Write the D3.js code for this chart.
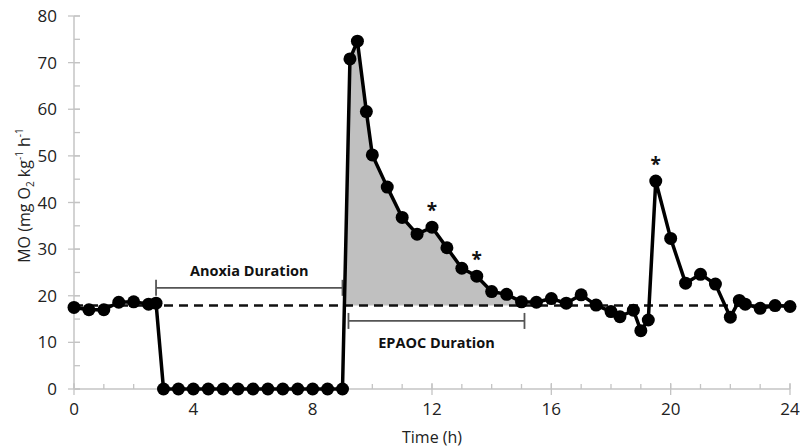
<!DOCTYPE html>
<html>
<head>
<meta charset="utf-8">
<script src="https://cdn.jsdelivr.net/npm/d3@7"></script>
<style>
  html, body { margin: 0; padding: 0; background: #fff; }
  svg { display: block; font-family: "Open Sans", sans-serif; }
</style>
</head>
<body>
<svg id="chart" width="800" height="447"></svg>
<script>
// ---- data ----
const times = [0, 0.5, 1.0, 1.5, 2.0, 2.5, 2.75,
  3.0, 3.5, 4.0, 4.5, 5.0, 5.5, 6.0, 6.5, 7.0, 7.5, 8.0, 8.5, 9.0,
  9.25, 9.5, 9.8, 10.0, 10.5, 11.0, 11.5, 12.0, 12.5, 13.0, 13.5, 14.0, 14.5, 15.0, 15.5,
  16.0, 16.5, 17.0, 17.5, 18.0, 18.3, 18.75, 19.0, 19.25, 19.5, 20.0, 20.5, 21.0, 21.5,
  22.0, 22.3, 22.5, 23.0, 23.5, 24.0];
const mo = [17.5, 17.0, 17.0, 18.6, 18.7, 18.2, 18.4,
  0, 0, 0, 0, 0, 0, 0, 0, 0, 0, 0, 0, 0,
  70.8, 74.6, 59.5, 50.2, 43.3, 36.8, 33.2, 34.7, 30.3, 25.9, 24.2, 20.9, 20.3, 18.7, 18.6,
  19.4, 18.4, 20.2, 18.0, 16.6, 15.5, 16.9, 12.5, 14.8, 44.6, 32.3, 22.7, 24.6, 22.5,
  15.4, 19.0, 18.2, 17.3, 17.9, 17.7];
const baseline = 17.9;
const epaocRange = [9.0, 15.0];          // shaded recovery period
const anoxiaBracket = [2.75, 9.0];
const anoxiaBracketY = 21.7;
const epaocBracket = [9.2, 15.1];
const epaocBracketY = 14.6;
const starTimes = [12.0, 13.5, 19.5];
const xTicks = [0, 4, 8, 12, 16, 20, 24];
const xMinorTicks = d3.range(0, 25, 1);
const yTicks = [0, 10, 20, 30, 40, 50, 60, 70, 80];
const yMinorTicks = d3.range(0, 81, 5);

// ---- layout ----
const svg = d3.select("#chart");
const x = d3.scaleLinear().domain([0, 24]).range([74, 790]);
const y = d3.scaleLinear().domain([0, 80]).range([389, 16]);
const axisColor = "#c4c4c4";

const data = times.map((t, i) => ({ t, v: mo[i] }));

// ---- axes ----
const gx = svg.append("g");
gx.append("line").attr("x1", x(0)).attr("x2", x(24)).attr("y1", y(0)).attr("y2", y(0))
  .attr("stroke", axisColor).attr("stroke-width", 1.5);
gx.selectAll("line.minor").data(xMinorTicks).join("line").attr("class", "minor")
  .attr("x1", d => x(d)).attr("x2", d => x(d)).attr("y1", y(0) - 5).attr("y2", y(0))
  .attr("stroke", axisColor).attr("stroke-width", 1.3);
gx.selectAll("line.major").data(xTicks).join("line").attr("class", "major")
  .attr("x1", d => x(d)).attr("x2", d => x(d)).attr("y1", y(0) - 6).attr("y2", y(0) + 6)
  .attr("stroke", axisColor).attr("stroke-width", 1.3);
gx.selectAll("text").data(xTicks).join("text")
  .attr("x", d => x(d)).attr("y", y(0) + 26).attr("text-anchor", "middle")
  .attr("font-size", 17).attr("fill", "#222").text(d => d);

const gy = svg.append("g");
gy.append("line").attr("x1", x(0)).attr("x2", x(0)).attr("y1", y(0)).attr("y2", y(80))
  .attr("stroke", axisColor).attr("stroke-width", 1.5);
gy.selectAll("line.minor").data(yMinorTicks).join("line").attr("class", "minor")
  .attr("x1", x(0)).attr("x2", x(0) + 6).attr("y1", d => y(d)).attr("y2", d => y(d))
  .attr("stroke", axisColor).attr("stroke-width", 1.3);
gy.selectAll("line.major").data(yTicks).join("line").attr("class", "major")
  .attr("x1", x(0) - 6).attr("x2", x(0) + 6).attr("y1", d => y(d)).attr("y2", d => y(d))
  .attr("stroke", axisColor).attr("stroke-width", 1.3);
gy.selectAll("text").data(yTicks).join("text")
  .attr("x", 57).attr("y", d => y(d) + 6).attr("text-anchor", "end")
  .attr("font-size", 17).attr("fill", "#222").text(d => d);

// axis titles
svg.append("text").attr("x", x(12)).attr("y", 443).attr("text-anchor", "middle")
  .attr("font-size", 16).attr("fill", "#222").text("Time (h)");
const yl = svg.append("text").attr("transform", `translate(30,${y(41.5)}) rotate(-90)`)
  .attr("text-anchor", "middle").attr("font-size", 16).attr("fill", "#222");
yl.append("tspan").text("MO (mg O");
yl.append("tspan").attr("font-size", 10).attr("dy", 4).text("2");
yl.append("tspan").attr("dy", -4).text(" kg");
yl.append("tspan").attr("font-size", 10).attr("dy", -7).text("-1");
yl.append("tspan").attr("dy", 7).text(" h");
yl.append("tspan").attr("font-size", 10).attr("dy", -7).text("-1");

// ---- shaded EPAOC area ----
const seg = [];
for (let i = 1; i < data.length; i++) {
  const a = data[i - 1], b = data[i];
  if (b.t <= epaocRange[0] || a.t >= epaocRange[1] + 1e-9) continue;
  if (a.v < baseline && b.v >= baseline) {
    const tc = a.t + (b.t - a.t) * (baseline - a.v) / (b.v - a.v);
    seg.push({ t: tc, v: baseline });
  }
  if (b.t <= epaocRange[1]) seg.push(b);
}
seg.push({ t: epaocRange[1], v: baseline });
svg.append("path").datum(seg)
  .attr("d", d3.area().x(d => x(d.t)).y0(y(baseline)).y1(d => y(Math.max(d.v, baseline))))
  .attr("fill", "#c0c0c0");

// ---- baseline dashed ----
svg.append("line").attr("x1", x(0)).attr("x2", x(24)).attr("y1", y(baseline)).attr("y2", y(baseline))
  .attr("stroke", "#111").attr("stroke-width", 2.5).attr("stroke-dasharray", "9,6");

// ---- brackets ----
function bracket(range, v, label, labelDy) {
  const g = svg.append("g").attr("stroke", "#555").attr("stroke-width", 1.8);
  g.append("line").attr("x1", x(range[0])).attr("x2", x(range[1])).attr("y1", y(v)).attr("y2", y(v));
  g.append("line").attr("x1", x(range[0])).attr("x2", x(range[0])).attr("y1", y(v) - 8).attr("y2", y(v) + 8);
  g.append("line").attr("x1", x(range[1])).attr("x2", x(range[1])).attr("y1", y(v) - 8).attr("y2", y(v) + 8);
  svg.append("text").attr("x", (x(range[0]) + x(range[1])) / 2).attr("y", y(v) + labelDy)
    .attr("text-anchor", "middle").attr("font-size", 14.5).attr("font-weight", "bold")
    .attr("fill", "#111").text(label);
}
bracket(anoxiaBracket, anoxiaBracketY, "Anoxia Duration", -12);
bracket(epaocBracket, epaocBracketY, "EPAOC Duration", 27);

// ---- data line + markers ----
svg.append("path").datum(data)
  .attr("d", d3.line().x(d => x(d.t)).y(d => y(d.v)))
  .attr("fill", "none").attr("stroke", "#000").attr("stroke-width", 3.5).attr("stroke-linejoin", "round");
svg.selectAll("circle.pt").data(data).join("circle").attr("class", "pt")
  .attr("cx", d => x(d.t)).attr("cy", d => y(d.v)).attr("r", 6.5).attr("fill", "#000");

// ---- significance stars ----
svg.selectAll("text.star").data(starTimes).join("text").attr("class", "star")
  .attr("x", d => x(d)).attr("y", d => y(mo[times.indexOf(d)]) - 10)
  .attr("text-anchor", "middle").attr("font-size", 19).attr("font-weight", "bold")
  .attr("fill", "#111").text("*");
</script>
</body>
</html>
